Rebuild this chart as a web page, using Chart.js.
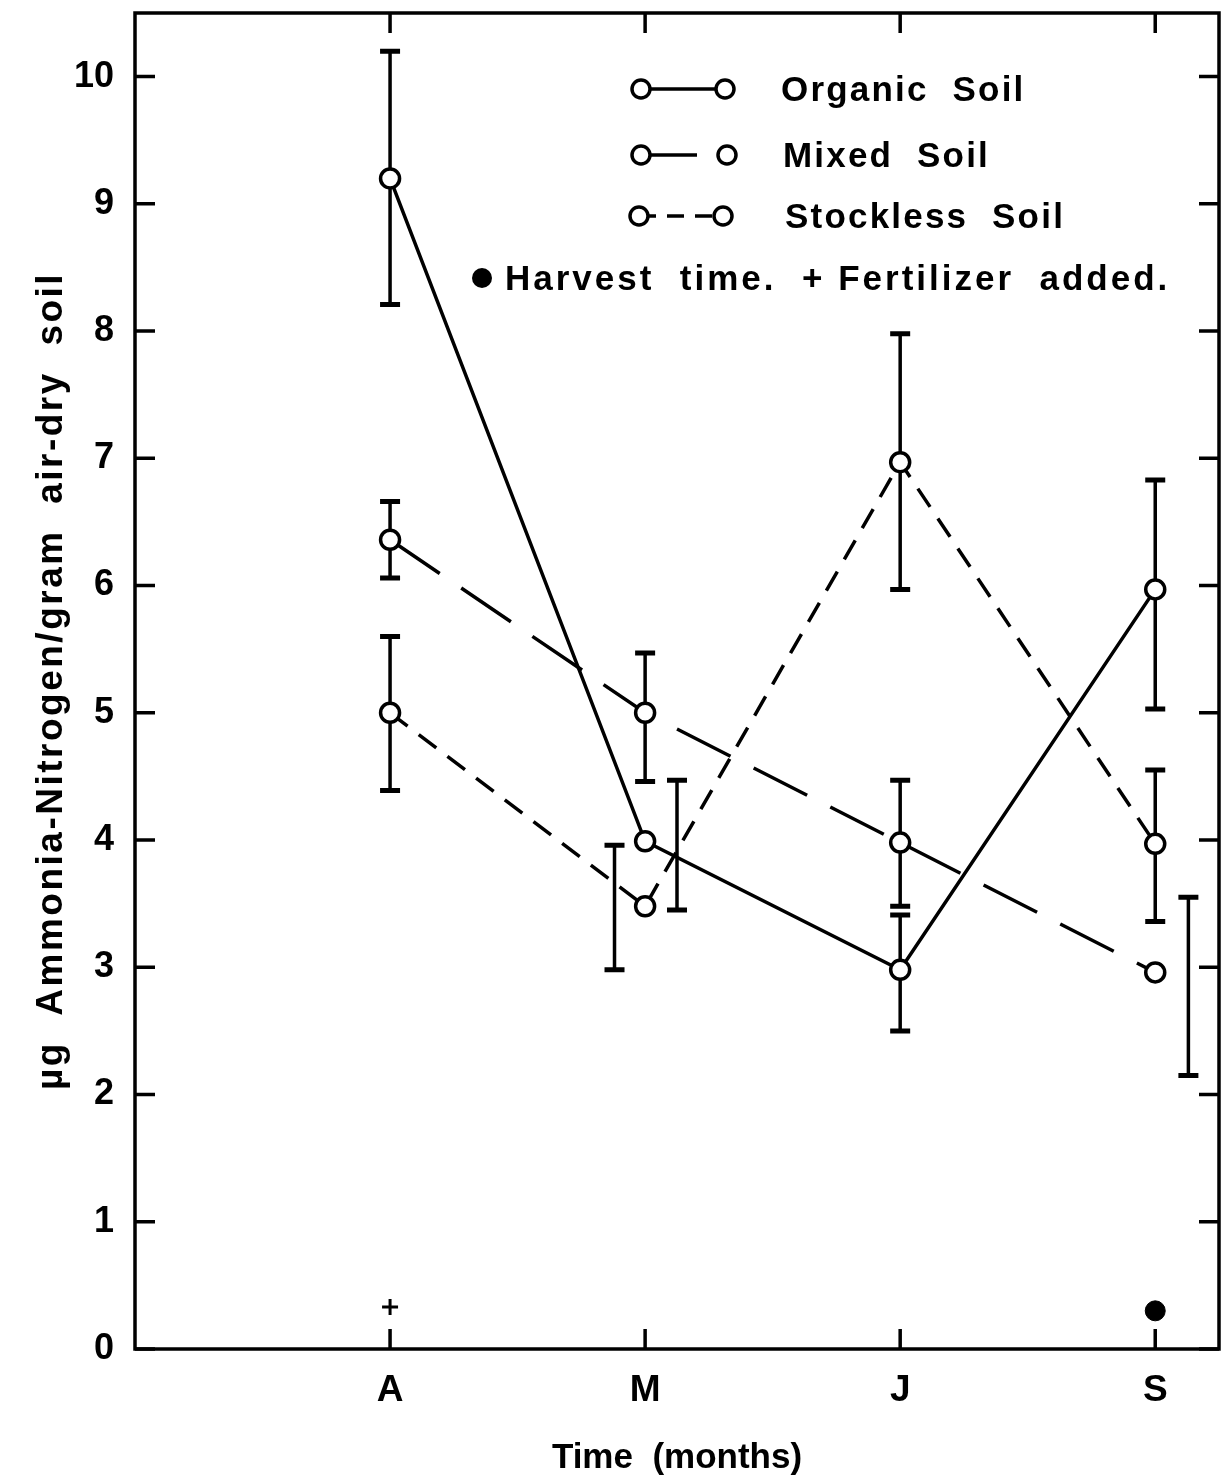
<!DOCTYPE html>
<html>
<head>
<meta charset="utf-8">
<script src="https://cdn.jsdelivr.net/npm/chart.js@4.4.1/dist/chart.umd.min.js"></script>
<style>
  html, body { margin: 0; padding: 0; background: #fff; }
</style>
</head>
<body>
<canvas id="chartSoil" width="1232" height="1482"></canvas>
<script>
const months = ['A', 'M', 'J', 'S'];
const monthPos = [1, 2, 3, 4];
const yTicks = [0, 1, 2, 3, 4, 5, 6, 7, 8, 9, 10];
const yTitle = 'µg  Ammonia-Nitrogen/gram  air-dry  soil';

const organic = [9.2, 3.99, 2.98, 5.97];
const organicLow = [8.21, 3.45, 2.5, 5.03];
const organicHigh = [10.2, 4.47, 3.41, 6.83];
const organicErrPos = [1, 2.125, 3, 4];

const mixed = [6.36, 5.0, 3.98, 2.96];
const mixedLow = [6.06, 4.46, 3.48, 2.15];
const mixedHigh = [6.66, 5.47, 4.47, 3.55];
const mixedErrPos = [1, 2, 3, 4.13];

const stockless = [5.0, 3.48, 6.97, 3.97];
const stocklessLow = [4.39, 2.98, 5.97, 3.36];
const stocklessHigh = [5.6, 3.96, 7.98, 4.55];
const stocklessErrPos = [1, 1.88, 3, 4];

// fertilizer added (A), harvest time (S)
const eventPos = [1, 4];
const eventY = [0.33, 0.3];

const FONT = "'Liberation Sans', Arial, sans-serif";
Chart.defaults.font.family = FONT;
Chart.defaults.font.weight = 'bold';
Chart.defaults.color = '#000';

function points(xs, ys) {
    return ys.map((v, i) => ({ x: xs[i], y: v }));
}

function lineSet(label, values, dash) {
    return {
        label: label,
        data: points(monthPos, values),
        borderColor: '#000',
        borderWidth: 3.5,
        borderDash: dash,
        pointRadius: 9.5,
        pointBorderWidth: 3.5,
        pointBackgroundColor: '#fff',
        pointBorderColor: '#000',
        tension: 0
    };
}

const errorSets = [
    { pos: organicErrPos, low: organicLow, high: organicHigh },
    { pos: mixedErrPos, low: mixedLow, high: mixedHigh },
    { pos: stocklessErrPos, low: stocklessLow, high: stocklessHigh }
];

const errorBars = {
    id: 'errorBars',
    beforeDatasetsDraw(chart) {
        const c = chart.ctx, xs = chart.scales.x, ys = chart.scales.y;
        c.save();
        c.strokeStyle = '#000';
        errorSets.forEach(s => {
            s.pos.forEach((p, i) => {
                const x = xs.getPixelForValue(p);
                const y1 = ys.getPixelForValue(s.low[i]);
                const y2 = ys.getPixelForValue(s.high[i]);
                c.lineWidth = 3.5;
                c.beginPath();
                c.moveTo(x, y1); c.lineTo(x, y2);
                c.stroke();
                c.lineWidth = 5;
                c.beginPath();
                c.moveTo(x - 10, y1); c.lineTo(x + 10, y1);
                c.moveTo(x - 10, y2); c.lineTo(x + 10, y2);
                c.stroke();
            });
        });
        c.restore();
    }
};

const frame = {
    id: 'frame',
    afterDraw(chart) {
        const c = chart.ctx, a = chart.chartArea;
        c.save();
        c.strokeStyle = '#000';
        c.lineWidth = 3.5;
        c.strokeRect(a.left, a.top, a.right - a.left, a.bottom - a.top);
        c.beginPath();
        chart.scales.y.ticks.forEach(t => {
            const y = chart.scales.y.getPixelForValue(t.value);
            c.moveTo(a.left, y); c.lineTo(a.left + 20, y);
            c.moveTo(a.right, y); c.lineTo(a.right - 20, y);
        });
        chart.scales.x.ticks.forEach(t => {
            const x = chart.scales.x.getPixelForValue(t.value);
            c.moveTo(x, a.bottom); c.lineTo(x, a.bottom - 20);
            c.moveTo(x, a.top); c.lineTo(x, a.top + 20);
        });
        c.stroke();

        // y axis title, letter-spaced like the original
        c.fillStyle = '#000';
        c.font = 'bold 37px ' + FONT;
        c.letterSpacing = '2.5px';
        c.textAlign = 'center';
        c.textBaseline = 'middle';
        c.translate(52, (a.top + a.bottom) / 2);
        c.rotate(-Math.PI / 2);
        c.fillText(yTitle, 0, 0);
        c.restore();
    }
};

const legendBox = {
    id: 'legendBox',
    afterDraw(chart) {
        const c = chart.ctx;
        const rows = [
            { text: 'Organic  Soil', y: 89, dash: [], x0: 641, x1: 725, tx: 781 },
            { text: 'Mixed  Soil', y: 155, dash: [56, 40], x0: 641, x1: 727, tx: 783 },
            { text: 'Stockless  Soil', y: 216, dash: [17, 11], x0: 639, x1: 723, tx: 785 }
        ];
        c.save();
        c.fillStyle = '#000';
        c.strokeStyle = '#000';
        c.font = 'bold 35px ' + FONT;
        c.letterSpacing = '2.2px';
        c.textBaseline = 'middle';
        rows.forEach(r => {
            c.lineWidth = 3.5;
            c.setLineDash(r.dash);
            c.beginPath();
            c.moveTo(r.x0, r.y); c.lineTo(r.x1, r.y);
            c.stroke();
            c.setLineDash([]);
            [r.x0, r.x1].forEach(x => {
                c.beginPath();
                c.arc(x, r.y, 9, 0, Math.PI * 2);
                c.fillStyle = '#fff';
                c.fill();
                c.stroke();
            });
            c.fillStyle = '#000';
            c.fillText(r.text, r.tx, r.y + 2);
        });
        c.beginPath();
        c.arc(482, 278, 10, 0, Math.PI * 2);
        c.fill();
        c.letterSpacing = '3px';
        c.fillText('Harvest  time.  + Fertilizer  added.', 505, 280);
        c.restore();
    }
};

new Chart(document.getElementById('chartSoil'), {
    type: 'line',
    data: {
        datasets: [
            lineSet('Organic Soil', organic, []),
            lineSet('Mixed Soil', mixed, [60, 26]),
            lineSet('Stockless Soil', stockless, [22, 14]),
            {
                label: 'events',
                data: points(eventPos, eventY),
                showLine: false,
                pointStyle: ['cross', 'circle'],
                pointRadius: [8, 10],
                pointBorderWidth: [3, 1],
                pointBackgroundColor: '#000',
                pointBorderColor: '#000'
            }
        ]
    },
    options: {
        responsive: false,
        animation: false,
        devicePixelRatio: 1,
        layout: { padding: { top: 10, right: 11, left: 0, bottom: 0 } },
        plugins: {
            legend: { display: false },
            tooltip: { enabled: false }
        },
        scales: {
            x: {
                type: 'linear',
                min: 0,
                max: 4.25,
                afterBuildTicks: s => { s.ticks = monthPos.map(v => ({ value: v })); },
                afterFit: s => { s.height = 133; s.paddingLeft = 0; s.paddingRight = 0; },
                grid: { display: false },
                border: { display: false },
                ticks: {
                    padding: 12,
                    font: { size: 37 },
                    callback: v => months[monthPos.indexOf(v)]
                },
                title: {
                    display: true,
                    text: 'Time  (months)',
                    font: { size: 35 },
                    padding: { top: 0, bottom: 3 }
                }
            },
            y: {
                min: 0,
                max: 10.5,
                afterBuildTicks: s => { s.ticks = yTicks.map(v => ({ value: v })); },
                afterFit: s => { s.width = 135; s.paddingTop = 0; s.paddingBottom = 0; },
                grid: { display: false },
                border: { display: false },
                ticks: {
                    padding: 13,
                    font: { size: 36 }
                },
                title: { display: false }
            }
        }
    },
    plugins: [errorBars, frame, legendBox]
});
</script>
</body>
</html>
